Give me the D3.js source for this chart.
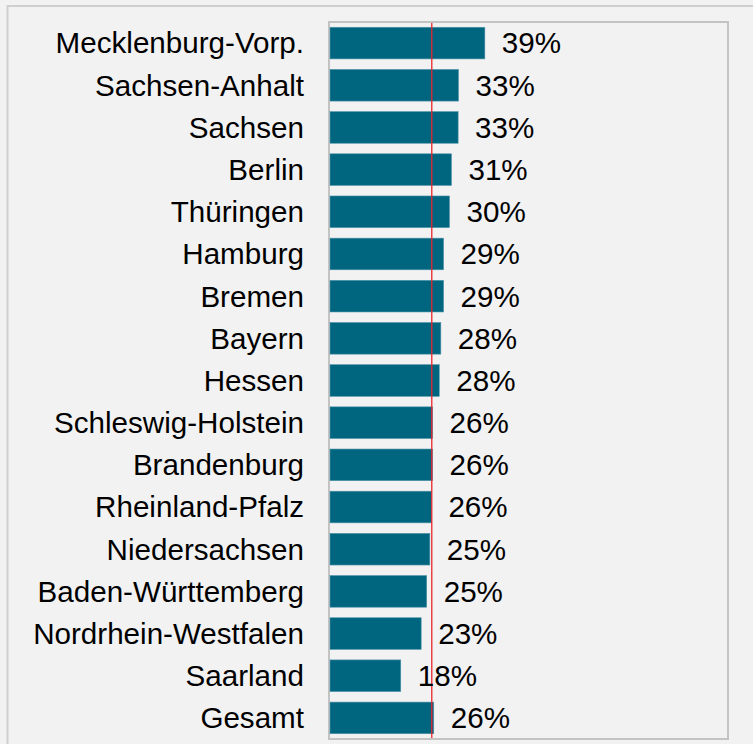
<!DOCTYPE html>
<html>
<head>
<meta charset="utf-8">
<script src="https://cdn.jsdelivr.net/npm/d3@7"></script>
<style>
  html, body { margin: 0; padding: 0; background: #f2f2f2; }
  svg { display: block; }
</style>
</head>
<body>
<svg id="chart" width="753" height="744"></svg>
<script>
const categories = [
  "Mecklenburg-Vorp.", "Sachsen-Anhalt", "Sachsen", "Berlin", "Thüringen",
  "Hamburg", "Bremen", "Bayern", "Hessen", "Schleswig-Holstein",
  "Brandenburg", "Rheinland-Pfalz", "Niedersachsen", "Baden-Württemberg",
  "Nordrhein-Westfalen", "Saarland", "Gesamt"
];
const values = [
  0.394, 0.327, 0.326, 0.309, 0.304,
  0.289, 0.289, 0.282, 0.278, 0.261,
  0.261, 0.258, 0.254, 0.246,
  0.232, 0.180, 0.264
];
const averageLine = 0.259;

const svg = d3.select("#chart");
const W = 753, H = 744;

// outer background and frame
svg.append("rect").attr("x", 0).attr("y", 0).attr("width", W).attr("height", H).attr("fill", "#f2f2f2");
svg.append("rect").attr("x", 7.5).attr("y", 6).attr("width", W + 20).attr("height", H + 20)
  .attr("fill", "#f2f2f2").attr("stroke", "#cfcfcf").attr("stroke-width", 2);

const plot = { left: 329, right: 728, top: 22, bottom: 739 };

const x = d3.scaleLinear().domain([0, 1]).range([330, 723]);
const y = d3.scaleBand().domain(categories).range([plot.top, plot.bottom])
  .paddingInner(0.25).paddingOuter(0.125);

// plot frame
svg.append("rect").attr("x", plot.left).attr("y", plot.top)
  .attr("width", plot.right - plot.left).attr("height", plot.bottom - plot.top)
  .attr("fill", "#f2f2f2").attr("stroke", "#c3c3c3").attr("stroke-width", 2);

const data = categories.map((c, i) => ({ c, v: values[i] }));

// bars
svg.append("g").selectAll("rect").data(data).join("rect")
  .attr("x", x(0))
  .attr("y", d => y(d.c))
  .attr("width", d => x(d.v) - x(0))
  .attr("height", y.bandwidth())
  .attr("fill", "#006680")
  .attr("stroke", "#4f93a8")
  .attr("stroke-width", 0.6);

// average line
svg.append("line")
  .attr("x1", x(averageLine)).attr("x2", x(averageLine))
  .attr("y1", plot.top + 1).attr("y2", plot.bottom - 1)
  .attr("stroke", "#e8262b").attr("stroke-width", 1.3);

// category labels (axis)
const yAxis = d3.axisLeft(y).tickSize(0).tickPadding(0);
const ax = svg.append("g").attr("transform", `translate(${plot.left - 25},0)`).call(yAxis);
ax.select(".domain").remove();
ax.selectAll("text")
  .attr("font-family", "Liberation Sans, Arial, sans-serif")
  .attr("font-size", 29.6)
  .attr("fill", "#000")
  .attr("dy", "0.35em");

// value labels
const fmt = d3.format(".0%");
svg.append("g").selectAll("text").data(data).join("text")
  .attr("x", d => x(d.v) + 17)
  .attr("y", d => y(d.c) + y.bandwidth() / 2)
  .attr("dy", "0.35em")
  .attr("font-family", "Liberation Sans, Arial, sans-serif")
  .attr("font-size", 29.6)
  .attr("fill", "#000")
  .text(d => fmt(d.v));
</script>
</body>
</html>
